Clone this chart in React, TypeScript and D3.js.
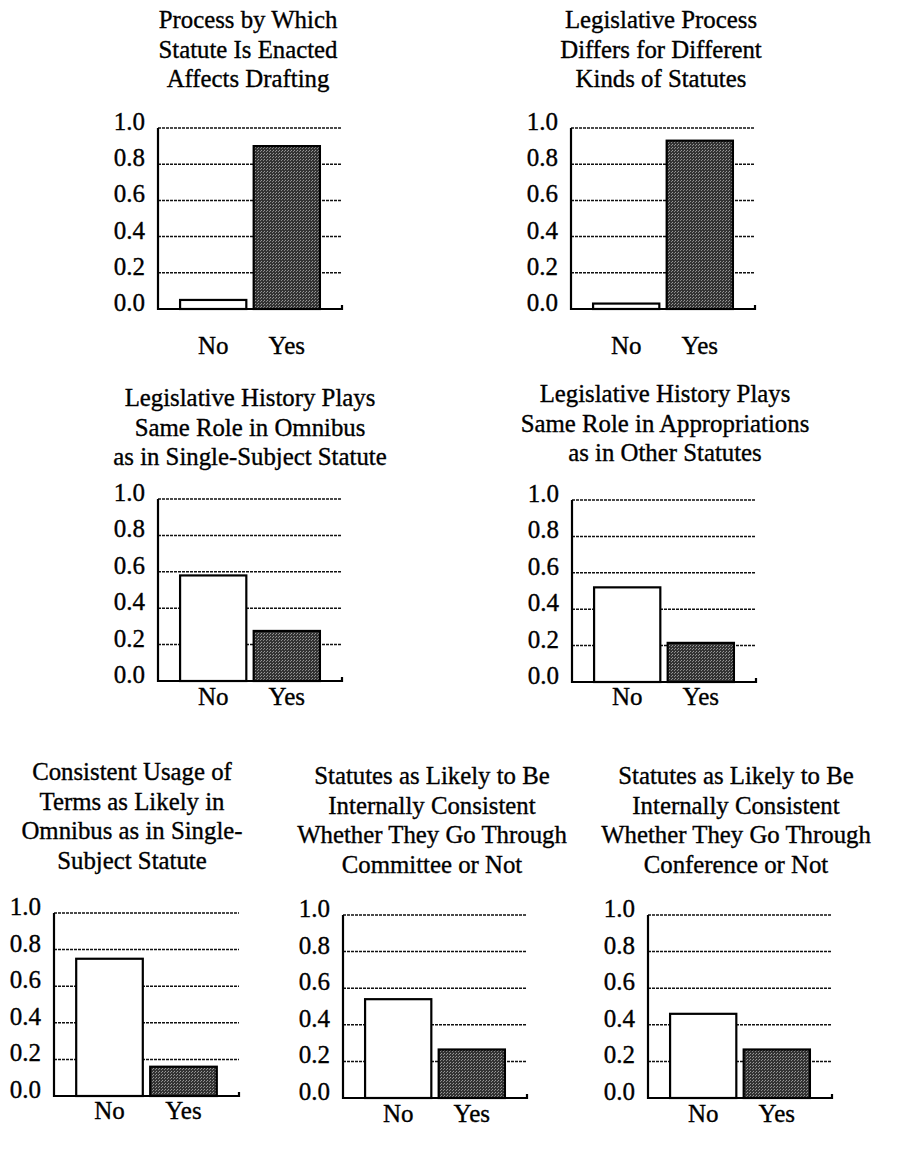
import React, { useEffect, useRef } from 'react';
import * as d3 from 'd3';

// survey answers, share of respondents
const categories = ['No', 'Yes'];
const noValues = [0.05, 0.03, 0.58, 0.52, 0.75, 0.54, 0.46];
const yesValues = [0.9, 0.93, 0.275, 0.215, 0.16, 0.265, 0.265];
const yTicks = [0, 0.2, 0.4, 0.6, 0.8, 1.0];
const titles = [
  ['Process by Which', 'Statute Is Enacted', 'Affects Drafting'],
  ['Legislative Process', 'Differs for Different', 'Kinds of Statutes'],
  ['Legislative History Plays', 'Same Role in Omnibus', 'as in Single-Subject Statute'],
  ['Legislative History Plays', 'Same Role in Appropriations', 'as in Other Statutes'],
  ['Consistent Usage of', 'Terms as Likely in', 'Omnibus as in Single-', 'Subject Statute'],
  ['Statutes as Likely to Be', 'Internally Consistent', 'Whether They Go Through', 'Committee or Not'],
  ['Statutes as Likely to Be', 'Internally Consistent', 'Whether They Go Through', 'Conference or Not'],
];

// where each small chart sits on the page
const layout = [
  { x: 158, y: 128, w: 184, h: 181, tx: 248, ty: 28, ly: 354 },
  { x: 571, y: 128, w: 184, h: 181, tx: 661, ty: 28, ly: 354 },
  { x: 158, y: 499, w: 184, h: 182, tx: 250, ty: 406, ly: 705 },
  { x: 572, y: 500, w: 184, h: 182, tx: 665, ty: 402, ly: 705 },
  { x: 54, y: 913, w: 185, h: 183, tx: 132, ty: 780, ly: 1119 },
  { x: 343, y: 915, w: 184, h: 183, tx: 432, ty: 784, ly: 1122 },
  { x: 648, y: 915, w: 184, h: 183, tx: 736, ty: 784, ly: 1122 },
];

const FONT = "'Liberation Serif', 'Times New Roman', serif";

const App: React.FC = () => {
  const ref = useRef<SVGSVGElement | null>(null);

  useEffect(() => {
    if (!ref.current) return;
    const svg = d3.select(ref.current);
    svg.selectAll('*').remove();

    const defs = svg.append('defs');
    const pat = defs.append('pattern')
      .attr('id', 'stipple')
      .attr('width', 3)
      .attr('height', 3)
      .attr('patternUnits', 'userSpaceOnUse');
    pat.append('rect').attr('width', 3).attr('height', 3).attr('fill', '#333');
    pat.append('rect').attr('x', 0).attr('y', 0).attr('width', 1).attr('height', 1).attr('fill', '#999');
    pat.append('rect').attr('x', 2).attr('y', 1).attr('width', 1).attr('height', 1).attr('fill', '#888');

    layout.forEach((p, i) => {
      const y = d3.scaleLinear().domain([0, 1]).range([p.y + p.h, p.y]);
      const x = d3.scaleBand<string>()
        .domain(categories)
        .range([p.x, p.x + p.w])
        .paddingInner(0.1)
        .paddingOuter(0.3);
      const vals = [noValues[i], yesValues[i]];

      const g = svg.append('g');

      // title
      const t = g.append('text')
        .attr('text-anchor', 'middle')
        .style('font-family', FONT)
        .style('font-size', '24.8px')
        .attr('fill', '#000')
        .attr('stroke', '#000')
        .attr('stroke-width', 0.35);
      titles[i].forEach((line, k) => {
        t.append('tspan').attr('x', p.tx).attr('y', p.ty + k * 29.5).text(line);
      });

      // dotted gridlines
      g.selectAll('line.grid')
        .data(yTicks.slice(1))
        .join('line')
        .attr('class', 'grid')
        .attr('x1', p.x)
        .attr('x2', p.x + p.w)
        .attr('y1', d => y(d))
        .attr('y2', d => y(d))
        .attr('stroke', '#111')
        .attr('stroke-width', 1.5)
        .attr('stroke-dasharray', '3,1');

      // tick labels
      g.selectAll('text.tick')
        .data(yTicks)
        .join('text')
        .attr('class', 'tick')
        .attr('x', p.x - 13)
        .attr('y', d => y(d) + 2)
        .attr('text-anchor', 'end')
        .style('font-family', FONT)
        .style('font-size', '25px')
        .attr('fill', '#000')
        .attr('stroke', '#000')
        .attr('stroke-width', 0.35)
        .text(d => d.toFixed(1));

      // bars
      g.selectAll('rect.bar')
        .data(vals)
        .join('rect')
        .attr('class', 'bar')
        .attr('x', (_, k) => x(categories[k]) as number)
        .attr('width', x.bandwidth())
        .attr('y', d => y(d))
        .attr('height', d => y(0) - y(d))
        .attr('fill', (_, k) => (k === 0 ? '#fff' : 'url(#stipple)'))
        .attr('stroke', '#000')
        .attr('stroke-width', 2.2);

      // axes
      g.append('path')
        .attr('d', `M${p.x},${y(1)}V${y(0)}H${p.x + p.w}v-4`)
        .attr('fill', 'none')
        .attr('stroke', '#000')
        .attr('stroke-width', 2.2);

      // category labels
      g.selectAll('text.cat')
        .data(categories)
        .join('text')
        .attr('class', 'cat')
        .attr('x', d => (x(d) as number) + x.bandwidth() / 2)
        .attr('y', p.ly)
        .attr('text-anchor', 'middle')
        .style('font-family', FONT)
        .style('font-size', '25px')
        .attr('fill', '#000')
        .attr('stroke', '#000')
        .attr('stroke-width', 0.35)
        .text(d => d);
    });
  }, []);

  return (
    <svg
      ref={ref}
      width={914}
      height={1168}
      style={{ position: 'absolute', left: 0, top: 0, background: '#fff' }}
    />
  );
};

export default App;
